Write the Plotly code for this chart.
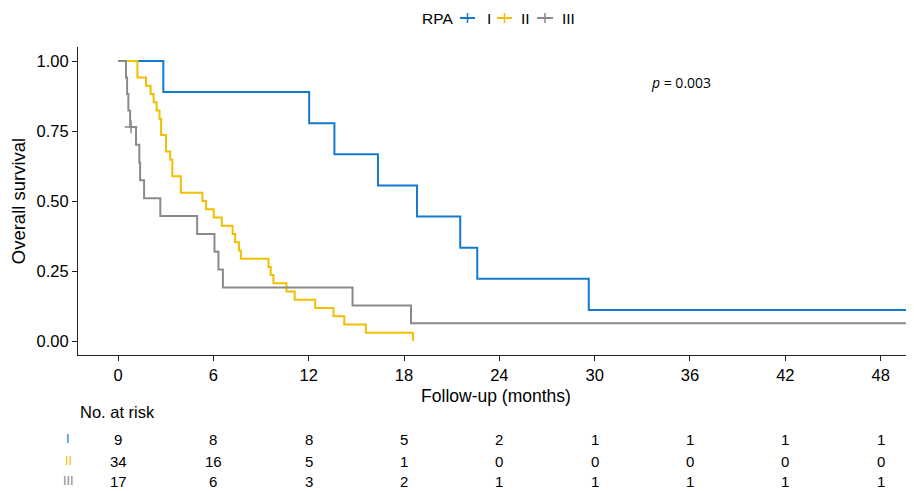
import plotly.graph_objects as go

# ---- data ----
groups = ["I", "II", "III"]
colors = {"I": "#1479CF", "II": "#F2BE00", "III": "#8A8A8A"}

# step times (months) and survival after each step
t_I = [0, 2.85, 12.03, 13.62, 16.36, 18.82, 21.54, 22.61, 29.63, 55]
s_I = [1.0, 8/9, 7/9, 6/9, 5/9, 4/9, 3/9, 2/9, 1/9, 1/9]

t_II = [0, 1.22, 1.76, 2.05, 2.24, 2.43, 2.61, 2.71, 3.02, 3.28, 3.42, 3.95,
        5.31, 5.54, 6.02, 6.53, 7.21, 7.37, 7.62, 7.73, 9.47, 9.61, 9.78,
        10.60, 11.12, 12.41, 13.56, 14.24, 15.60, 18.56]
n_II = [34, 32, 31, 30, 29, 28, 27, 25, 23, 22, 20, 18,
        17, 16, 15, 14, 13, 12, 11, 10, 9, 8, 7,
        6, 5, 4, 3, 2, 1, 0]
s_II = [n / 34 for n in n_II]

t_III = [0, 0.50, 0.57, 0.65, 0.76, 1.13, 1.34, 1.39, 1.64, 2.66, 4.98,
         6.07, 6.32, 6.60, 14.76, 18.44, 55]
s_III = [1.0, 16/17, 15/17, 14/17, 13/17, 0.701, 0.637, 0.574, 0.510, 0.446,
         0.382, 0.319, 0.255, 0.191, 0.127, 0.0637, 0.0637]

cens_t_III = [0.82]
cens_s_III = [13/17]

risk_times = [0, 6, 12, 18, 24, 30, 36, 42, 48]
risk_I = [9, 8, 8, 5, 2, 1, 1, 1, 1]
risk_II = [34, 16, 5, 1, 0, 0, 0, 0, 0]
risk_III = [17, 6, 3, 2, 1, 1, 1, 1, 1]

x_ticks = [0, 6, 12, 18, 24, 30, 36, 42, 48]
y_ticks = [0, 0.25, 0.5, 0.75, 1.0]
y_tick_labels = ["0.00", "0.25", "0.50", "0.75", "1.00"]

# ---- figure geometry (page has an 8px body margin) ----
OFF = 8
W, H = 914 - OFF, 491 - OFF
ML, MR, MT, MB = 78 - OFF, 0, 47 - OFF, 136
PW = W - ML - MR
PH = H - MT - MB
FONT = "Liberation Sans, Arial, sans-serif"


def py(px):
    """reference pixel row -> paper y"""
    return (H - MB - (px - OFF)) / PH


def px_(x):
    """reference pixel column -> paper x"""
    return (x - OFF - ML) / PW


fig = go.Figure()
curves = {"I": (t_I, s_I), "II": (t_II, s_II), "III": (t_III, s_III)}
for g in groups:
    t, s = curves[g]
    fig.add_trace(go.Scatter(x=t, y=s, mode="lines", name=g,
                             line=dict(color=colors[g], width=2, shape="hv"),
                             showlegend=False, hoverinfo="skip"))

fig.add_trace(go.Scatter(x=cens_t_III, y=cens_s_III, mode="markers",
                         marker=dict(symbol="cross-thin", size=9, line=dict(color=colors["III"], width=1.5)),
                         showlegend=False, hoverinfo="skip"))

fig.update_layout(
    width=W, height=H,
    margin=dict(l=ML, r=MR, t=MT, b=MB),
    plot_bgcolor="white", paper_bgcolor="white",
    font=dict(family=FONT, size=15, color="black"),
    showlegend=False,
    xaxis=dict(range=[-2.52, 50.1], tickmode="array", tickvals=x_ticks,
               showgrid=False, zeroline=False, showline=True, linecolor="#222", linewidth=1.2,
               ticks="outside", ticklen=5, tickcolor="#222", tickfont=dict(size=16.5, color="black"),
               title=dict(text="Follow-up (months)", font=dict(size=17.5), standoff=6)),
    yaxis=dict(range=[-0.05, 1.05], tickmode="array", tickvals=y_ticks, ticktext=y_tick_labels,
               showgrid=False, zeroline=False, showline=True, linecolor="#222", linewidth=1.2,
               ticks="outside", ticklen=5, tickcolor="#222", tickfont=dict(size=16.5, color="black"),
               title=dict(text="Overall survival", font=dict(size=18.5), standoff=6)),
)

# legend (drawn as keys at the top)
fig.add_annotation(xref="paper", yref="paper", x=px_(420), y=py(18), xanchor="left", yanchor="middle",
                   text="RPA", showarrow=False, font=dict(size=15.5))
legend_keys = [("I", 460, 475, 485), ("II", 497, 512, 519), ("III", 537, 553, 560)]
for g, x0, x1, xt in legend_keys:
    xm = (x0 + x1) / 2
    fig.add_shape(type="line", xref="paper", yref="paper", x0=px_(x0), x1=px_(x1), y0=py(18), y1=py(18),
                  line=dict(color=colors[g], width=2))
    fig.add_shape(type="line", xref="paper", yref="paper", x0=px_(xm), x1=px_(xm), y0=py(13), y1=py(23),
                  line=dict(color=colors[g], width=1.5))
    fig.add_annotation(xref="paper", yref="paper", x=px_(xt), y=py(18), xanchor="left", yanchor="middle",
                       text=g, showarrow=False, font=dict(size=15.5))

# p-value
fig.add_annotation(xref="paper", yref="paper", x=px_(681), y=py(82), xanchor="center", yanchor="middle",
                   text="<i>p</i> = 0.003", showarrow=False,
                   font=dict(family="Open Sans, sans-serif", size=14, color="black"))

# risk table
fig.add_annotation(xref="paper", yref="paper", x=px_(78), y=py(412), xanchor="left", yanchor="middle",
                   text="No. at risk", showarrow=False, font=dict(size=16.5))
rows = [("I", risk_I, 439), ("II", risk_II, 461), ("III", risk_III, 481)]
for g, vals, ypx in rows:
    fig.add_annotation(xref="paper", yref="paper", x=px_(68), y=py(ypx),
                       xanchor="center", yanchor="middle", text=g, showarrow=False,
                       font=dict(size=12, color=colors[g], family="DejaVu Sans"))
    for tt, v in zip(risk_times, vals):
        fig.add_annotation(xref="x", yref="paper", x=tt, y=py(ypx), xanchor="center", yanchor="middle",
                           text=str(v), showarrow=False, font=dict(size=15))

fig.write_html("out.html")
